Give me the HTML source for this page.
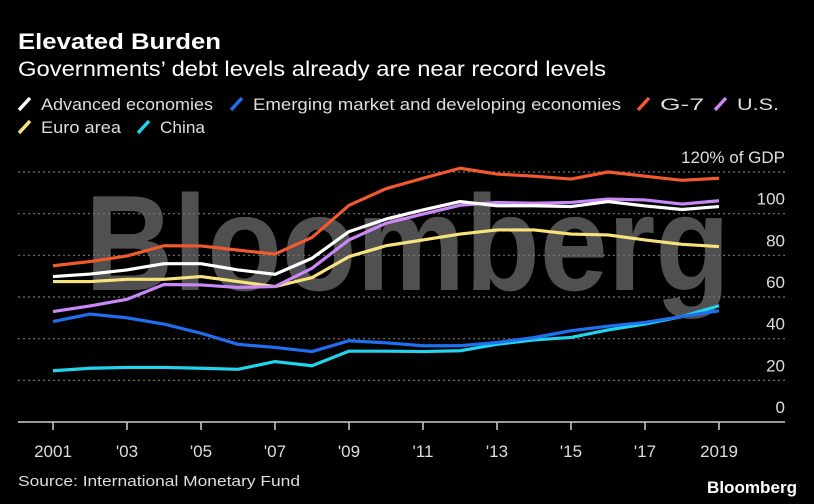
<!DOCTYPE html>
<html><head><meta charset="utf-8"><style>
html,body{margin:0;padding:0;background:#000;}
svg{display:block;font-family:"Liberation Sans",sans-serif;}
</style></head><body>
<svg id="chart" width="814" height="504" viewBox="0 0 814 504" xmlns="http://www.w3.org/2000/svg">
<rect width="814" height="504" fill="#000"/>
<text x="18" y="49" fill="#fff" font-size="22" font-weight="bold" textLength="203" lengthAdjust="spacingAndGlyphs">Elevated Burden</text>
<text x="18" y="76" fill="#fff" font-size="21" textLength="588" lengthAdjust="spacingAndGlyphs">Governments’ debt levels already are near record levels</text>
<g id="legend" font-size="17" fill="#ddd"></g>
<text x="85" y="290" fill="#5f5f5f" font-size="136" font-weight="bold" textLength="645" lengthAdjust="spacingAndGlyphs" opacity="0.85">Bloomberg</text>
<g id="grid"></g>
<g id="series"></g>
<g id="xaxis"></g>
<text x="18" y="486" fill="#ddd" font-size="15" textLength="282" lengthAdjust="spacingAndGlyphs">Source: International Monetary Fund</text>
<text x="797" y="493" text-anchor="end" fill="#fff" font-size="17" font-weight="bold" textLength="90" lengthAdjust="spacingAndGlyphs">Bloomberg</text>
</svg>
<script>
const years = [2001,2002,2003,2004,2005,2006,2007,2008,2009,2010,2011,2012,2013,2014,2015,2016,2017,2018,2019];
const yTicks = [0,20,40,60,80,100,120];
const xTickYears = [2001,2003,2005,2007,2009,2011,2013,2015,2017,2019];
const xTickLabels = ["2001","'03","'05","'07","'09","'11","'13","'15","'17","2019"];
const seriesNames = ["Advanced economies","Emerging market and developing economies","G-7","U.S.","Euro area","China"];
const advanced = [69.8,71,73,76,76,73,70.9,78.6,91.4,97.4,101.8,105.8,103.8,103.8,103.4,105.8,103.7,102,103.4];
const emerging = [48.2,51.8,50,47,42.6,37.3,35.8,33.8,39,38,36.6,36.6,38.2,40.5,43.8,46,47.8,50.6,53.4];
const g7 = [75,77,79.7,84.6,84.5,82.5,80.6,88.6,104,112,117,121.8,119,118,116.6,120,118,116,117];
const us = [53,55.7,58.9,66,65.8,64.6,65,73.8,87.4,95.4,99.8,104,105.4,105,105.4,107,106.6,104.6,106.2];
const euro = [67.4,67.4,68.5,68.5,69.8,67.4,65,69.3,79.4,84.6,87.4,90.2,92.2,92.2,90.2,89.8,87.4,85.3,84.2];
const china = [24.6,25.8,26.2,26.2,25.8,25.3,29,27,34,34,33.8,34.2,37.3,39.4,40.6,44.2,47,50.6,55.8];

const NS="http://www.w3.org/2000/svg";
const X0=53,X1=719,Y0=422,Y120=172;
const xs=y=>X0+(y-2001)*(X1-X0)/18;
const ys=v=>Y0-v*(Y0-Y120)/120;
function mk(t,a,p){const e=document.createElementNS(NS,t);for(const k in a)e.setAttribute(k,a[k]);p.appendChild(e);return e;}

const grid=document.getElementById('grid');
yTicks.forEach(v=>{
  if(v>0){const l=mk('line',{x1:18,x2:785,y1:ys(v),y2:ys(v),stroke:'#777','stroke-width':1.2,'stroke-dasharray':'2 3'},grid);
  
  }
  const t=mk('text',{x:785,y:ys(v)-9,'text-anchor':'end',fill:'#ddd','font-size':17},grid);
  t.textContent=v===120?'120% of GDP':String(v);
  
  
});

const xa=document.getElementById('xaxis');
const ax=mk('line',{x1:18,x2:785,y1:Y0,y2:Y0,stroke:'#ccc','stroke-width':1.5},xa);


xTickYears.forEach((yr,i)=>{
  const tk=mk('line',{x1:xs(yr),x2:xs(yr),y1:Y0,y2:Y0+8,stroke:'#ccc','stroke-width':1.5},xa);
  
  
  const t=mk('text',{x:xs(yr),y:Y0+35,'text-anchor':'middle',fill:'#ddd','font-size':17},xa);
  t.textContent=xTickLabels[i];
  
  
});

const sg=document.getElementById('series');
const defs=[[china,'#22d3ee','china'],[emerging,'#1f6ff0','emerging'],[euro,'#f7e27c','euro-area'],[us,'#c987f7','us'],[advanced,'#ffffff','advanced'],[g7,'#f2592c','g7']];
defs.forEach(([d,c,n])=>{
  const p=mk('polyline',{points:d.map((v,i)=>xs(years[i])+','+ys(v)).join(' '),fill:'none',stroke:c,'stroke-width':3.2,'stroke-linejoin':'round'},sg);
  
  
});

const lg=document.getElementById('legend');
const legendItems=[[0,'#ffffff',18,110,172],[1,'#1f6ff0',230,110,368],[2,'#f2592c',637,110,44],[3,'#c987f7',714,110,42],[4,'#f7e27c',18,133,80],[5,'#22d3ee',137,133,45]];
legendItems.forEach(([i,c,x,y,w])=>{
  const s=mk('line',{x1:x+1,y1:y,x2:x+12,y2:y-12,stroke:c,'stroke-width':3.5},lg);
  
  
  const t=mk('text',{x:x+23,y:y,fill:'#ddd',textLength:w,lengthAdjust:'spacingAndGlyphs'},lg);
  t.textContent=seriesNames[i];
  
  
});
</script>
</body></html>
